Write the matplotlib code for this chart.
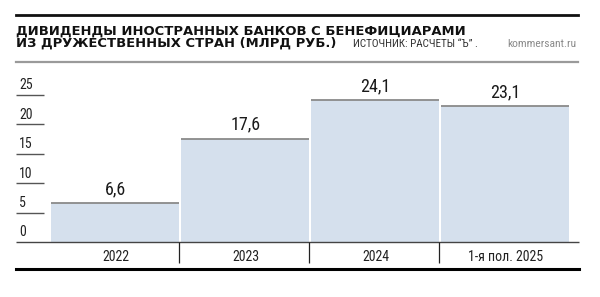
import matplotlib
matplotlib.use("Agg")
import matplotlib.pyplot as plt
from matplotlib import font_manager as fm
from matplotlib.lines import Line2D

categories = ["2022", "2023", "2024", "1-я пол. 2025"]
values = [6.6, 17.6, 24.1, 23.1]
value_labels = ["6,6", "17,6", "24,1", "23,1"]
yticks = [0, 5, 10, 15, 20, 25]

names = {f.name for f in fm.fontManager.ttflist}
BODY = "Roboto Condensed" if "Roboto Condensed" in names else "Fira Sans Condensed"
plt.rcParams["font.family"] = [BODY, "DejaVu Sans"]

head_prop = fm.FontProperties(family="DejaVu Sans", weight="bold")

W, H = 600, 297
fig = plt.figure(figsize=(6, 2.97), dpi=100)
renderer = fig.canvas.get_renderer()

def fx(px):
    return px / W

def fy(py):
    return 1 - py / H

def fit(t, target_px):
    w = t.get_window_extent(renderer).width
    t.set_fontsize(t.get_fontsize() * target_px / w)

# axes: pixel x 16..579, value 0 at y=242, 25 at y=95
ppu = (242 - 95) / 25.0
top_val = 30
ax_left, ax_right = 16, 579
ax_bottom = 242
ax_top = 242 - top_val * ppu
ax = fig.add_axes([fx(ax_left), fy(ax_bottom), fx(ax_right - ax_left), (ax_bottom - ax_top) / H])
ax.set_ylim(0, top_val)
spacing = 130.0
c0 = 115.5
xl = (ax_left - c0) / spacing
xr = (ax_right - c0) / spacing
ax.set_xlim(xl, xr)
ax.axis("off")

pos = list(range(len(categories)))
width = 128 / spacing
ax.bar(pos, values, width=width, color="#d5e0ed", edgecolor="none", zorder=1)
ax.hlines(values, [p - width / 2 for p in pos], [p + width / 2 for p in pos],
          color="#8a8a8a", lw=1.3, zorder=2)
for p, v, lab in zip(pos, values, value_labels):
    ax.text(p, v + 0.9, lab, ha="center", va="bottom", fontsize=13, color="#1a1a1a")

# y ticks: short lines with labels above
tick_end = (44 - c0) / spacing
ax.hlines(yticks[1:], xl, tick_end, color="#555555", lw=1.0, clip_on=False)
for t in yticks:
    ax.text(xl + 3 / spacing, t + 0.45, str(t), ha="left", va="bottom", fontsize=10, color="#222222")

# baseline
ax.hlines([0], xl, xr, color="#444444", lw=1.0, clip_on=False)

# separators & category labels
sep_bottom = -(263 - 242) / ppu
for p in pos[:-1]:
    ax.vlines(p + 0.5 - 0.5 * (2 / spacing), sep_bottom, 0, color="#222222", lw=0.9, clip_on=False)
for p, c in zip(pos, categories):
    ax.text(p, -(257 - 242) / ppu, c, ha="center", va="center", fontsize=10, color="#222222")

# bottom thick line
fig.add_artist(Line2D([fx(16), fx(579)], [fy(269), fy(269)], color="black", lw=2.2))

# header
fig.add_artist(Line2D([fx(16), fx(578)], [fy(14.5), fy(14.5)], color="#111111", lw=2.0))
fig.add_artist(Line2D([fx(16), fx(578)], [fy(62), fy(62)], color="#9a9a9a", lw=1.6))
t1 = fig.text(fx(16), fy(31), "ДИВИДЕНДЫ ИНОСТРАННЫХ БАНКОВ С БЕНЕФИЦИАРАМИ",
              ha="left", va="center", fontproperties=head_prop, color="#111111")
t1.set_fontsize(11)
fit(t1, 445)
t2 = fig.text(fx(16), fy(43.5), "ИЗ ДРУЖЕСТВЕННЫХ СТРАН (МЛРД РУБ.)",
              ha="left", va="center", fontproperties=head_prop, color="#111111")
t2.set_fontsize(t1.get_fontsize())
t3 = fig.text(fx(353), fy(44), "ИСТОЧНИК: РАСЧЕТЫ “Ъ” .", ha="left", va="center",
              fontsize=7.5, color="#333333")
fit(t3, 125)
t4 = fig.text(fx(576), fy(44), "kommersant.ru", ha="right", va="center",
              fontsize=8, color="#8a8a8a")
fit(t4, 69)

fig.savefig("out.png", dpi=100, facecolor="white")
